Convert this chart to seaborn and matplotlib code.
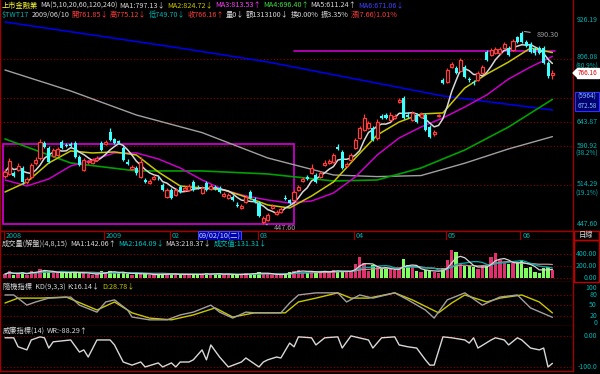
import numpy as np
import pandas as pd
import matplotlib
matplotlib.use("Agg")
import matplotlib.pyplot as plt
import seaborn as sns
from matplotlib.patches import Rectangle, Polygon

# %%
# Daily candles, 2008/12 .. 2009/06/10 (open, close, high, low)
opens = [531.2, 535.0, 537.0, 542.7, 546.6, 520.0, 529.4, 556.4, 566.4, 597.5,
         587.0, 570.5, 572.5, 599.6, 593.2, 595.3, 597.5, 568.5, 542.7, 558.4,
         556.4, 562.4, 597.5, 595.3, 621.4, 606.1, 601.8, 587.0, 558.4, 544.6,
         546.6, 529.4, 523.7, 518.1, 525.6, 527.5, 514.4, 492.9, 505.3, 496.4,
         510.8, 505.3, 505.3, 520.0, 510.8, 499.9, 518.1, 507.1, 510.8, 509.0,
         494.6, 491.1, 492.9, 479.0, 473.9, 484.2, 501.7, 489.4, 482.4, 450.9,
         454.1, 473.9, 464.0, 467.3, 491.1, 487.6, 487.6, 505.3, 521.8, 529.4,
         537.0, 533.1, 529.4, 552.4, 556.4, 558.4, 589.0, 578.7, 550.5, 562.4,
         587.0, 608.2, 625.8, 630.3, 630.3, 608.2, 657.9, 660.2, 648.5, 653.2,
         691.5, 701.5, 660.2, 648.5, 660.2, 655.6, 660.2, 632.6, 617.0, 657.9,
         747.9, 742.6, 783.4, 780.6, 772.2, 783.4, 750.6, 742.6, 747.9, 766.7,
         826.4, 817.6, 823.5, 823.5, 838.0, 838.0, 832.3, 871.8, 884.3, 856.4,
         850.2, 835.1, 838.0, 838.0, 794.6, 761.85]
closes = [538.9, 560.4, 531.2, 550.5, 520.0, 525.6, 552.4, 562.4, 599.6, 589.0,
          558.4, 582.8, 584.9, 587.0, 592.0, 591.1, 568.5, 552.4, 562.4, 559.5,
          562.4, 566.4, 582.8, 599.6, 603.9, 597.5, 597.5, 562.4, 554.4, 548.6,
          537.0, 558.4, 520.0, 521.8, 529.4, 526.5, 505.3, 505.3, 491.1, 505.3,
          501.7, 509.0, 512.6, 505.3, 510.0, 509.0, 505.3, 512.6, 509.0, 501.7,
          498.2, 496.4, 487.6, 477.3, 477.3, 492.9, 491.1, 484.2, 460.7, 457.4,
          462.3, 477.3, 467.3, 472.3, 489.4, 482.4, 501.7, 510.8, 525.6, 525.6,
          546.6, 520.0, 537.0, 556.4, 560.4, 572.5, 584.9, 546.6, 554.4, 572.5,
          603.9, 630.3, 653.2, 641.6, 603.9, 643.9, 653.2, 653.2, 660.2, 657.9,
          696.4, 653.2, 655.6, 665.0, 643.9, 662.6, 625.8, 610.4, 621.4, 660.2,
          740.0, 775.0, 791.8, 766.7, 803.1, 756.0, 747.9, 740.0, 766.7, 783.4,
          803.1, 832.3, 835.1, 835.1, 850.2, 817.6, 859.4, 856.4, 856.4, 844.1,
          826.4, 823.5, 823.5, 794.6, 758.5, 766.16]
highs = [544.6, 566.4, 540.8, 556.4, 550.5, 529.4, 556.4, 568.5, 606.1, 601.8,
         591.1, 587.0, 589.0, 603.9, 597.5, 599.6, 601.8, 572.5, 566.4, 562.4,
         566.4, 570.5, 601.8, 603.9, 630.3, 608.2, 603.9, 591.1, 564.4, 552.4,
         550.5, 568.5, 527.5, 525.6, 533.1, 531.2, 518.1, 509.0, 509.0, 509.0,
         514.4, 512.6, 516.3, 523.7, 514.4, 512.6, 521.8, 516.3, 514.4, 512.6,
         501.7, 499.9, 496.4, 484.2, 480.7, 496.4, 505.3, 492.9, 485.9, 460.7,
         465.6, 480.7, 470.6, 475.6, 496.4, 489.4, 505.3, 514.4, 529.4, 533.1,
         554.4, 537.0, 540.8, 562.4, 564.4, 576.6, 595.3, 582.8, 558.4, 576.6,
         608.2, 634.8, 662.6, 646.2, 634.8, 650.9, 662.6, 665.0, 667.4, 662.6,
         701.5, 706.5, 667.4, 669.7, 665.0, 667.4, 665.0, 637.1, 625.8, 662.6,
         753.2, 780.6, 797.5, 786.2, 809.0, 789.0, 756.0, 747.9, 772.2, 789.0,
         832.3, 838.0, 841.1, 841.1, 856.4, 844.1, 865.6, 874.9, 890.3, 862.5,
         856.4, 841.1, 844.1, 844.1, 800.3, 775.12]
lows = [527.5, 533.1, 529.4, 540.8, 516.3, 516.3, 525.6, 552.4, 562.4, 587.0,
        556.4, 568.5, 570.5, 584.9, 589.0, 589.0, 566.4, 550.5, 540.8, 554.4,
        554.4, 560.4, 580.7, 593.2, 601.8, 595.3, 595.3, 560.4, 552.4, 542.7,
        533.1, 527.5, 518.1, 516.3, 523.7, 523.7, 503.5, 491.1, 489.4, 494.6,
        499.9, 503.5, 503.5, 503.5, 507.1, 498.2, 503.5, 505.3, 505.3, 499.9,
        492.9, 489.4, 485.9, 475.6, 472.3, 482.4, 489.4, 482.4, 459.1, 447.6,
        452.5, 472.3, 462.3, 465.6, 487.6, 480.7, 485.9, 503.5, 520.0, 523.7,
        535.0, 518.1, 527.5, 550.5, 554.4, 556.4, 582.8, 544.6, 548.6, 560.4,
        584.9, 606.1, 623.6, 628.1, 601.8, 603.9, 650.9, 650.9, 646.2, 650.9,
        689.0, 650.9, 653.2, 646.2, 641.6, 653.2, 623.6, 608.2, 612.6, 655.6,
        737.3, 740.0, 780.6, 764.0, 769.5, 753.2, 742.6, 734.7, 745.2, 764.0,
        800.3, 814.7, 820.6, 820.6, 835.1, 814.7, 829.4, 853.3, 853.3, 841.1,
        823.5, 817.6, 820.6, 791.8, 753.2, 749.70]
volumes = [60, 110, 50, 70, 90, 50, 120, 100, 140, 130, 90, 70, 80, 110, 80, 70,
           100, 90, 70, 60, 50, 60, 110,
           90, 120, 80, 70, 100, 60, 50, 80, 70, 60, 40, 40, 60, 70, 60, 50, 60,
           50, 60, 50,
           60, 50, 60, 80, 50, 60, 70, 50, 60, 40, 50, 60, 70, 60, 80, 90, 70,
           60, 50, 40, 60, 70, 100,
           120, 130, 100, 80, 120, 100, 90, 110, 100, 130, 120, 90, 100, 120,
           230, 350, 260, 120, 210, 180, 150, 150, 140, 130, 150, 330, 210, 180,
           120, 100, 130, 130, 100, 80,
           160, 300, 470, 440, 260, 200, 200, 180, 150, 200,
           200, 350, 420, 300, 250, 240, 260, 250, 300, 170, 190, 100, 70, 170,
           190, 131.31]

# moving averages (candle index, value)
ma_idx = [0, 5, 10, 15, 20, 25, 30, 35, 40, 45, 50, 55, 60, 65, 70, 75, 80,
          85, 90, 95, 100, 105, 110, 115, 120, 125]
ma10 = [501.7, 520.0, 556.4, 580.7, 576.6, 578.7, 572.5, 538.9, 512.6, 509.0,
        505.3, 492.9, 479.0, 473.9, 494.6, 520.0, 566.4, 614.8, 643.9, 662.6,
        665.0, 726.9, 763.8, 797.5, 838.0, 824.7]
ma20 = [523.7, 512.6, 525.6, 550.5, 562.4, 576.6, 576.6, 564.4, 546.6, 523.7,
        505.3, 494.6, 487.6, 482.4, 485.9, 499.9, 529.4, 572.5, 608.2, 632.6,
        653.2, 679.3, 709.0, 750.6, 783.4, 813.5]
long_idx = [0, 15, 30, 45, 60, 75, 85, 95, 105, 115, 125]
ma60 = [606.1, 556.4, 540.8, 540.8, 535.0, 521.8, 523.7, 546.6, 582.8, 632.6,
        698.0]
ma120 = [775.0, 719.2, 660.2, 620.0, 566.4, 533.1, 530.0, 532.0, 556.0, 585.0,
         611.2]
ma240_idx = [0, 20, 40, 60, 80, 100, 125]
ma240 = [919.6, 878.0, 838.0, 797.5, 750.6, 706.5, 672.1]

# KD(9,3,3) and WR(14)
k_idx = [0, 2, 5, 7, 10, 15, 17, 21, 23, 25, 28, 29, 33, 37, 40, 43, 47, 49,
         52, 55, 57, 60, 63, 65, 67, 71, 76, 78, 81, 84, 89, 92, 96, 98, 101,
         105, 109, 113, 117, 120, 125]
k_val = [80, 80, 51, 60, 71, 74, 51, 31, 60, 66, 37, 17, 9, 9, 23, 31, 51, 31,
         14, 31, 29, 29, 29, 57, 80, 86, 86, 60, 80, 71, 86, 66, 37, 14, 66,
         86, 51, 74, 80, 43, 16.14]
d_idx = [0, 3, 8, 14, 21, 25, 29, 33, 38, 43, 48, 52, 57, 64, 67, 71, 76, 79,
         83, 89, 93, 99, 102, 105, 110, 113, 118, 122, 125]
d_val = [57, 71, 71, 74, 37, 60, 29, 14, 9, 23, 43, 17, 29, 29, 60, 71, 86, 71,
         71, 86, 66, 29, 57, 80, 60, 71, 80, 60, 28.78]
wr_idx = [0, 2, 3, 5, 6, 8, 9, 10, 11, 13, 15, 17, 18, 19, 21, 24, 25, 27, 29,
          31, 32, 35, 36, 38, 39, 40, 42, 43, 45, 46, 47, 49, 51, 54, 55, 58,
          59, 60, 62, 63, 65, 66, 67, 70, 71, 73, 76, 77, 79, 83, 84, 86, 89,
          90, 92, 94, 96, 97, 98, 100, 102, 105, 106, 107, 108, 111, 112, 114,
          115, 117, 118, 120, 122, 123, 124, 125]
wr_val = [-6, -6, -35, -45, -13, -3, -6, -39, -19, -16, -13, -52, -45, -68,
          -13, -13, -29, -84, -94, -84, -100, -87, -100, -87, -100, -84, -84,
          -77, -45, -77, -29, -68, -100, -84, -71, -100, -84, -77, -68, -71,
          -23, -35, -3, -6, -29, -6, -3, -39, 0, -13, -39, -6, -3, -29, -35,
          -39, -77, -94, -94, -3, -6, -13, -23, -6, -39, -13, -6, -13, -29, -6,
          -13, -39, -45, -39, -100, -88.29]

month_idx = [0, 23, 38, 58, 80, 101, 118]
month_lbl = ["2008", "2009", "02", "03", "04", "05", "06"]

# right-hand price scale: (level, label, label position)
price_lbl = [(926.19, "926.19", 926.19), (806.08, "806.08", 811.8),
             (643.87, "643.87", 643.87), (590.92, "590.92", 592.0),
             (514.29, "514.29", 515.5), (447.60, "447.60", 447.60)]
pct_lbl = [("(80.9%)", 785.0), ("(38.2%)", 575.6), ("(19.1%)", 499.0)]

# %%
sns.set_theme(style="dark", rc={"axes.facecolor": "black",
                                "figure.facecolor": "black",
                                "savefig.facecolor": "black",
                                "axes.edgecolor": "#a00000"})
plt.rcParams["font.family"] = ["Noto Sans CJK TC", "DejaVu Sans"]

RED = "#ff3c3c"
CYAN = "#3cffff"
TEAL = "#00b4b4"
WHITE = "#d8d8d8"
YEL = "#c8c800"
MAG = "#c800c8"
GRN = "#00a000"
GRAY = "#a0a0a0"
BLUE = "#0000e0"
GRID = "#900000"
FS = 5.2
FSR = 5.0

W, H = 600, 374
fig = plt.figure(figsize=(6, 3.74), dpi=100)
rend = fig.canvas.get_renderer()


def px_axes(x0, y0, x1, y1):
    a = fig.add_axes([x0 / W, 1 - y1 / H, (x1 - x0) / W, (y1 - y0) / H])
    a.set_facecolor("black")
    a.set_xticks([])
    a.set_yticks([])
    for s in a.spines.values():
        s.set_color("#a00000")
        s.set_linewidth(1.0)
    a.spines["top"].set_visible(False)
    return a


def ftext(x, y, s, color, fs=FS, **kw):
    return fig.text(x / W, 1 - y / H, s, color=color, fontsize=fs,
                    va="center", **kw)


def seq_text(x, y, segs, gap=2.0):
    # lay coloured segments one after another on a line
    for s, col in segs:
        t = ftext(x, y, s, col)
        x = t.get_window_extent(rend).x1 + gap


o = np.array(opens)
c = np.array(closes)
hi = np.array(highs)
lo = np.array(lows)
idx = np.arange(len(c))
up = c >= o
XL = (-1.14, 129.7)

# ---- price panel ----
ax = px_axes(0, 0, 573, 231)
ax.set_yscale("log")
ax.set_ylim(436.6, 994.6)
ax.set_xlim(*XL)
ax.set_yticks([], minor=True)
for lv in [806.08, 701.7, 643.87, 590.92, 514.29]:
    ax.axhline(lv, color=GRID, lw=0.8, ls=(0, (1, 2)), zorder=0)

ax.add_patch(Rectangle((-0.5, 447.6), 66.5, 595.3 - 447.6, fill=False,
                       edgecolor=MAG, lw=1.3, zorder=1))
ax.plot([66, 125.6], [829.4, 829.4], color=MAG, lw=1.2, zorder=1)

sns.lineplot(x=long_idx, y=ma120, ax=ax, color=GRAY, lw=1, estimator=None)
sns.lineplot(x=ma240_idx, y=ma240, ax=ax, color=BLUE, lw=1.2, estimator=None)
sns.lineplot(x=long_idx, y=ma60, ax=ax, color=GRN, lw=1.2, estimator=None)
sns.lineplot(x=ma_idx, y=ma20, ax=ax, color=MAG, lw=1.1, estimator=None)
sns.lineplot(x=ma_idx, y=ma10, ax=ax, color=YEL, lw=1.1, estimator=None)
ma5 = pd.Series(c).rolling(5, min_periods=1).mean().to_numpy()
sns.lineplot(x=idx, y=ma5, ax=ax, color=WHITE, lw=1.1, estimator=None)

ax.vlines(idx, lo, hi, colors=np.where(up, RED, CYAN), lw=0.9, zorder=3)
ax.bar(idx[up], c[up] - o[up], bottom=o[up], width=0.7, facecolor="black",
       edgecolor=RED, lw=0.9, zorder=4)
ax.bar(idx[~up], o[~up] - c[~up], bottom=c[~up], width=0.7, color=CYAN,
       lw=0, zorder=4)

ax.annotate("890.30", xy=(118, 890.3), xytext=(121.3, 878), color=GRAY,
            fontsize=FS, va="center",
            arrowprops=dict(arrowstyle="-", color=GRAY, lw=0.8))
ax.annotate("447.60", xy=(59, 447.6), xytext=(61.3, 441), color=GRAY,
            fontsize=FS, va="center", annotation_clip=False,
            arrowprops=dict(arrowstyle="-", color=GRAY, lw=0.8))

yt = ax.get_yaxis_transform()
for lv, s, pos in price_lbl:
    ax.text(1.006, pos, s, transform=yt, color=TEAL, fontsize=FSR,
            va="center", clip_on=False)
for s, pos in pct_lbl:
    ax.text(1.004, pos, s, transform=yt, color=TEAL, fontsize=4.6,
            va="center", clip_on=False)

# ---- date row ----
axd = px_axes(0, 231, 573, 240)
axd.spines["top"].set_visible(True)
axd.set_xlim(*XL)
axd.set_ylim(0, 1)
for m, s in zip(month_idx, month_lbl):
    axd.axvline(m - 0.3, color="#a00000", lw=0.9)
    axd.text(m + 0.1, 0.5, s, color=TEAL, fontsize=FS, va="center")
axd.text(44.2, 0.5, "09/02/10(二)", color="#c0e0ff", fontsize=FS, va="center",
         bbox=dict(boxstyle="square,pad=0.08", fc="#0000b0", ec="#4040ff",
                   lw=0.8))

# ---- volume panel ----
axv = px_axes(0, 240, 573, 282)
axv.set_xlim(*XL)
axv.set_ylim(-78, 652)
vol = np.array(volumes)
for lv in [400, 200, 0]:
    axv.axhline(lv, color=GRID, lw=0.8, ls=(0, (1, 2)), zorder=0)
axv.bar(idx, vol, width=0.75, color=np.where(up, "#e0306e", "#80ff60"),
        lw=0, zorder=2)
vs = pd.Series(vol)
for win, col in [(15, "#c09090"), (8, "#00b0b0"), (4, WHITE)]:
    sns.lineplot(x=idx, y=vs.rolling(win, min_periods=1).mean().to_numpy(),
                 ax=axv, color=col, lw=0.9, estimator=None)
RX = 597 / 573
yv = axv.get_yaxis_transform()
for lv, s in [(400, "400.00"), (200, "200.00"), (0, "0.00")]:
    axv.text(RX, lv, s, transform=yv, color=TEAL, fontsize=FSR,
             va="center", ha="right", clip_on=False)

# ---- KD panel ----
axk = px_axes(0, 282, 573, 326)
axk.set_xlim(*XL)
axk.set_ylim(-8.6, 117)
for lv in [80, 50, 20]:
    axk.axhline(lv, color=GRID, lw=0.8, ls=(0, (1, 2)), zorder=0)
sns.lineplot(x=d_idx, y=d_val, ax=axk, color=YEL, lw=1.0, estimator=None)
sns.lineplot(x=k_idx, y=k_val, ax=axk, color=GRAY, lw=1.0, estimator=None)
yk = axk.get_yaxis_transform()
for lv, s in [(100, "100"), (80, "80"), (50, "50"), (20, "20"), (0, "0")]:
    axk.text(RX, lv, s, transform=yk, color=TEAL, fontsize=FSR,
             va="center", ha="right", clip_on=False)

# ---- WR panel ----
axw = px_axes(0, 326, 573, 371)
axw.set_xlim(*XL)
axw.set_ylim(-113, 32)
for lv in [0, -100]:
    axw.axhline(lv, color=GRID, lw=0.8, ls=(0, (1, 2)), zorder=0)
sns.lineplot(x=wr_idx, y=wr_val, ax=axw, color=WHITE, lw=1.0, estimator=None)
yw = axw.get_yaxis_transform()
for lv, s in [(0, "0.00"), (-100, "-100.0")]:
    axw.text(RX, lv, s, transform=yw, color=TEAL, fontsize=FSR,
             va="center", ha="right", clip_on=False)

for a in (ax, axd, axv, axk, axw):
    a.set_xlabel("")
    a.set_ylabel("")

# ---- right column boxes / markers ----
fig.add_artist(Rectangle((574 / W, 1 - 282 / H), 25 / W, 42 / H,
                         transform=fig.transFigure, fill=False,
                         ec="#c00000", lw=1.0))
fig.add_artist(Rectangle((574 / W, 1 - 240 / H), 25 / W, 9 / H,
                         transform=fig.transFigure, fill=False,
                         ec="#c00000", lw=1.0))
ftext(586.5, 235.5, "日線", WHITE, ha="center")
fig.add_artist(Rectangle((575 / W, 1 - 111 / H), 24 / W, 19 / H,
                         transform=fig.transFigure, fc="#000070",
                         ec="#3030ff", lw=0.8))
ftext(587, 97, "(5964)", "#80c0ff", fs=4.6, ha="center")
ftext(587, 105.5, "672.58", "#80c0ff", fs=4.6, ha="center")
fig.add_artist(Rectangle((577 / W, 1 - 78 / H), 22 / W, 10 / H,
                         transform=fig.transFigure, fc="white", ec="white"))
fig.add_artist(Polygon([(573 / W, 1 - 73 / H), (577 / W, 1 - 69 / H),
                        (577 / W, 1 - 77 / H)], closed=True,
                       transform=fig.transFigure, fc="white", ec="white"))
ftext(588, 73, "766.16", "#e00000", fs=4.6, ha="center")

# ---- headers ----
seq_text(2, 5.5, [("上市金融業", "#ffff40"), ("MA(5,10,20,60,120,240)", WHITE),
                  ("MA1:797.13↓", WHITE), ("MA2:824.72↓", YEL),
                  ("MA3:813.53↑", "#ff40ff"), ("MA4:696.40↑", "#40e040"),
                  ("MA5:611.24↑", WHITE), ("MA6:671.06↓", "#4040ff")])
seq_text(2, 14.5, [("$TWT17", TEAL), ("2009/06/10", WHITE),
                   ("開761.85↓", RED), ("高775.12↓", RED),
                   ("低749.70↓", TEAL), ("收766.16↑", RED),
                   ("量0↓", WHITE), ("額1313100↓", WHITE),
                   ("換0.00%", WHITE), ("振3.35%", WHITE),
                   ("漲(7.66)1.01%", RED)])
seq_text(2, 243.5, [("成交量(解盤)(4,8,15)", WHITE), ("MA1:142.06↑", WHITE),
                    ("MA2:164.09↓", "#00c8c8"), ("MA3:218.37↓", WHITE),
                    ("成交值:131.31↓", "#00c8c8")])
seq_text(3, 286.5, [("隨機指標  KD(9,3,3)", WHITE), ("K:16.14↓", WHITE),
                    ("D:28.78↓", YEL)])
seq_text(3, 330.5, [("威廉指標(14)", WHITE), ("WR:-88.29↑", WHITE)])

fig.savefig("out.png", dpi=100, facecolor="black")
